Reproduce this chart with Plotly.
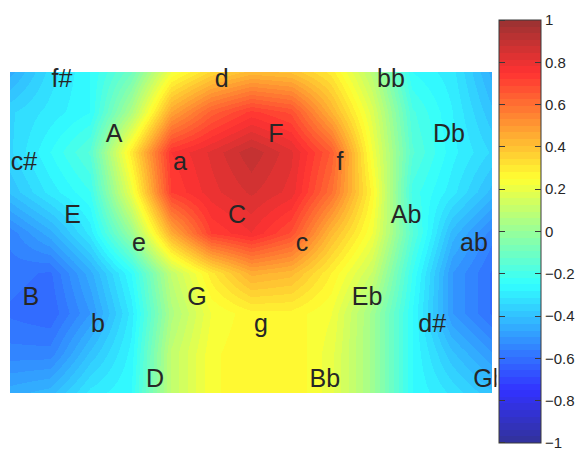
import plotly.graph_objects as go

# Grid of correlation values (rows top->bottom, cols left->right)
grid_x = list(range(13))
grid_y = list(range(9))
z_values = [
    [-0.45, -0.33, -0.25, -0.10, 0.22, 0.35, 0.42, 0.40, 0.30, 0.08, -0.25, -0.30, -0.45],
    [-0.35, -0.30, -0.25, 0.05, 0.47, 0.64, 0.73, 0.68, 0.44, 0.17, -0.18, -0.28, -0.40],
    [-0.35, -0.25, -0.15, 0.30, 0.75, 0.82, 0.90, 0.82, 0.65, 0.22, -0.15, -0.27, -0.35],
    [-0.40, -0.30, -0.22, 0.20, 0.72, 0.80, 0.85, 0.80, 0.60, 0.27, -0.20, -0.30, -0.42],
    [-0.55, -0.45, -0.30, 0.00, 0.45, 0.72, 0.78, 0.68, 0.42, 0.22, -0.15, -0.42, -0.55],
    [-0.58, -0.60, -0.45, -0.25, 0.10, 0.30, 0.45, 0.42, 0.28, 0.12, -0.22, -0.50, -0.60],
    [-0.60, -0.62, -0.50, -0.30, 0.05, 0.22, 0.27, 0.27, 0.22, 0.02, -0.25, -0.50, -0.60],
    [-0.55, -0.55, -0.40, -0.27, 0.10, 0.24, 0.28, 0.28, 0.20, 0.02, -0.25, -0.40, -0.50],
    [-0.45, -0.42, -0.30, -0.25, 0.10, 0.24, 0.28, 0.28, 0.20, 0.02, -0.25, -0.32, -0.40],
]

key_labels = ["f#", "d", "bb", "A", "F", "Db", "c#", "a", "f", "E", "C", "Ab",
              "e", "c", "ab", "B", "G", "Eb", "b", "g", "d#", "D", "Bb", "Gb"]
key_x = [1.295, 5.27, 9.485, 2.59, 6.62, 10.93, 0.35, 4.23, 8.215, 1.56, 5.65, 9.86,
         3.21, 7.27, 11.55, 0.52, 4.655, 8.89, 2.19, 6.25, 10.51, 3.61, 7.84, 11.95]
key_y = [0.218, 0.218, 0.218, 1.578, 1.578, 1.578, 2.275, 2.275, 2.275, 3.614, 3.614, 3.614,
         4.294, 4.294, 4.294, 5.657, 5.657, 5.657, 6.313, 6.313, 6.313, 7.683, 7.683, 7.683]

cbar_ticks = [-0.9999, -0.8, -0.6, -0.4, -0.2, 0, 0.2, 0.4, 0.6, 0.8, 0.9999]
cbar_ticktext = ["\u22121", "\u22120.8", "\u22120.6", "\u22120.4", "\u22120.2", "0",
                 "0.2", "0.4", "0.6", "0.8", "1"]


def jet(t):
    def c(v):
        return max(0.0, min(1.0, v))
    r = c(1.5 - abs(4 * t - 3))
    g = c(1.5 - abs(4 * t - 2))
    b = c(1.5 - abs(4 * t - 1))
    return tuple(int(round(50 + 205 * v)) for v in (r, g, b))


N = 64
colorscale = []
for i in range(N):
    col = "rgb(%d,%d,%d)" % jet((i + 0.5) / N)
    colorscale.append([i / N, col])
    colorscale.append([(i + 1) / N, col])

# plot area: x 10..492 px, y 72..393 px
PL, PW, PB, PH = 10, 482, 393, 321


def px_x(p):
    return (p - PL) / PW


def px_y(p):
    return (PB - p) / PH


common_cb = dict(
    y=px_y(231.5), yanchor="middle", ypad=0,
    len=423, lenmode="pixels",
    tickmode="array", tickvals=cbar_ticks,
    ticklabeloverflow="allow",
)

fig = go.Figure()
fig.add_trace(go.Heatmap(
    x=grid_x, y=grid_y, z=z_values,
    zmin=-1, zmax=1, zsmooth="best",
    colorscale=colorscale,
    hoverinfo="skip",
    colorbar=dict(
        x=px_x(497), xanchor="left", xpad=2,
        thickness=42, thicknessmode="pixels",
        outlinewidth=1, outlinecolor="#3a3a3a",
        bgcolor="white",
        ticktext=cbar_ticktext,
        ticks="inside", ticklen=6, tickcolor="#3a3a3a", tickwidth=1,
        tickfont=dict(family="Liberation Sans, Arial", size=15, color="#262626"),
        **common_cb,
    ),
))
fig.add_trace(go.Scatter(
    x=key_x, y=key_y, mode="text", text=key_labels,
    textposition="middle center",
    textfont=dict(family="Liberation Sans, Arial", size=25, color="#262626"),
    cliponaxis=False, hoverinfo="skip", showlegend=False,
))
# transparent helper colorbar giving the left-side tick marks of the colour bar
fig.add_trace(go.Heatmap(
    x=[-5], y=[-5], z=[[0]], zmin=-1, zmax=1,
    colorscale=[[0, "rgba(0,0,0,0)"], [1, "rgba(0,0,0,0)"]],
    hoverinfo="skip",
    colorbar=dict(
        x=px_x(498), xanchor="left", xpad=0,
        thickness=1, thicknessmode="pixels",
        outlinewidth=0, bgcolor="rgba(0,0,0,0)",
        showticklabels=False,
        ticks="outside", ticklen=6, tickcolor="#3a3a3a", tickwidth=1,
        **common_cb,
    ),
))

fig.update_layout(
    width=578, height=450,
    margin=dict(l=10, r=86, t=72, b=57, autoexpand=False),
    paper_bgcolor="white", plot_bgcolor="white",
    showlegend=False,
    xaxis=dict(range=[0, 12], visible=False, showgrid=False, zeroline=False),
    yaxis=dict(range=[8, 0], visible=False, showgrid=False, zeroline=False),
)
fig.write_html("out.html")
